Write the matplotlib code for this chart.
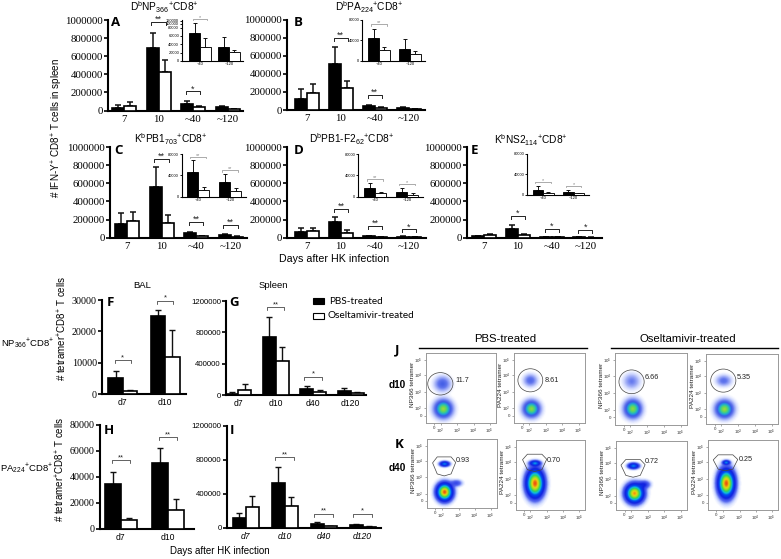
import matplotlib
matplotlib.use('Agg')
from matplotlib import pyplot as plt
from matplotlib.colors import LinearSegmentedColormap
from matplotlib.patches import Polygon, Ellipse, Rectangle
import numpy as np

W = 781
H = 559
SERIF = 'Liberation Serif'
SANS = 'Liberation Sans'
plt.rcParams['font.family'] = SANS
plt.rcParams['mathtext.default'] = 'regular'

days_top = ['7', '10', '~40', '~120']
days_long = ['d7', 'd10', 'd40', 'd120']
days_short = ['d7', 'd10']
inset_days = ['~40', '~120']

# top row panels, value and top of the error bar
a_black = [30000, 690000, 70000, 35000]
a_black_top = [60000, 860000, 100000, 55000]
a_white = [50000, 430000, 35000, 20000]
a_white_top = [95000, 560000, 50000, 22000]
b_black = [125000, 510000, 45000, 20000]
b_black_top = [230000, 700000, 60000, 30000]
b_white = [185000, 240000, 20000, 8000]
b_white_top = [290000, 320000, 28000, 12000]
c_black = [155000, 560000, 50000, 30000]
c_black_top = [275000, 775000, 68000, 42000]
c_white = [185000, 165000, 15000, 10000]
c_white_top = [280000, 250000, 22000, 14000]
d_black = [65000, 170000, 18000, 8000]
d_black_top = [105000, 230000, 22000, 14000]
d_white = [70000, 50000, 6000, 3000]
d_white_top = [105000, 85000, 9000, 5000]
e_black = [17000, 95000, 8000, 4000]
e_black_top = [22000, 140000, 12000, 6000]
e_white = [28000, 25000, 3000, 2000]
e_white_top = [42000, 45000, 5000, 3000]

# insets
ia_black = [68000, 33000]
ia_black_top = [90000, 57000]
ia_white = [34000, 21000]
ia_white_top = [54000, 26000]
ib_black = [43000, 23000]
ib_black_top = [61000, 41000]
ib_white = [20000, 13500]
ib_white_top = [27000, 19000]
ic_black = [46000, 28000]
ic_black_top = [68000, 43000]
ic_white = [12000, 10500]
ic_white_top = [18500, 15500]
id_black = [17000, 9000]
id_black_top = [25000, 16000]
id_white = [6000, 4000]
id_white_top = [8000, 6000]
ie_black = [10000, 6000]
ie_black_top = [17000, 10000]
ie_white = [4500, 3000]
ie_white_top = [6000, 4000]

# lower panels
f_black = [5000, 24900]
f_black_top = [7300, 26800]
f_white = [1000, 11900]
f_white_top = [1400, 20400]
g_black = [17000, 736000, 77000, 51000]
g_black_top = [34000, 996000, 110000, 89000]
g_white = [68000, 430000, 38000, 25000]
g_white_top = [140000, 613000, 60000, 38000]
h_black = [34500, 50600]
h_black_top = [44200, 62200]
h_white = [7000, 14400]
h_white_top = [8200, 23400]
i_black = [113000, 526000, 47000, 31000]
i_black_top = [179000, 720000, 66000, 47000]
i_white = [245000, 261000, 19000, 12000]
i_white_top = [370000, 358000, 27000, 19000]

ticks_top = [0, 200000, 400000, 600000, 800000, 1000000]
ticks_f = [0, 10000, 20000, 30000]
ticks_g = [0, 400000, 800000, 1200000]
ticks_h = [0, 20000, 40000, 60000, 80000]
ia_tick_labels = ['0', '20000', '40000', '60000', '80000', '100000', '120000']

# flow plots: percent labels and density blobs (x, y, sx, sy, peak) in box fractions
gate_pct = ['11.7', '8.61', '6.66', '5.35', '0.93', '0.70', '0.72', '0.25']
flow_names = ['NP366 tetramer', 'PA224 tetramer'] * 4
blobs_j1 = [(.246, .20, .07, .07, .66), (.234, .56, .065, .06, .2)]
blobs_j2 = [(.245, .20, .065, .065, .64), (.23, .61, .055, .05, .17)]
blobs_j3 = [(.245, .22, .065, .068, .64), (.23, .60, .065, .06, .12)]
blobs_j4 = [(.255, .21, .068, .068, .66), (.245, .62, .06, .045, .15)]
blobs_k1 = [(.25, .23, .062, .07, .95), (.25, .64, .04, .022, .36), (.42, .36, .05, .03, .09)]
blobs_k2 = [(.275, .38, .07, .11, .95), (.275, .67, .045, .022, .36)]
blobs_k3 = [(.26, .24, .07, .075, .88), (.245, .64, .045, .025, .36), (.40, .37, .05, .035, .12)]
blobs_k4 = [(.26, .38, .065, .11, .95), (.26, .68, .03, .018, .36)]

fig = plt.figure(figsize=(W / 100, H / 100), dpi=100)
cmap_j = LinearSegmentedColormap.from_list('flow_j', [
    (0, '#ffffff'), (.012, '#e4e9ff'), (.05, '#aab6f8'), (.12, '#6478ee'), (.22, '#3c58e4'),
    (.34, '#2098e0'), (.46, '#30c8a0'), (.6, '#70d850'), (.75, '#d8d828'), (.88, '#f0a010'), (1, '#e82010')])
cmap_k = LinearSegmentedColormap.from_list('flow_k', [
    (0, '#ffffff'), (.015, '#c8d4ff'), (.05, '#5a6cf0'), (.14, '#1020e0'), (.3, '#0050f0'),
    (.42, '#10c0e0'), (.55, '#30d060'), (.7, '#a0e020'), (.82, '#f0d010'), (1, '#e82010')])


def px_axes(left, top, right, bottom):
    return fig.add_axes([left / W, 1 - bottom / H, (right - left) / W, (bottom - top) / H])


def px_text(x, y, s, **kw):
    kw.setdefault('ha', 'center')
    kw.setdefault('va', 'center')
    return fig.text(x / W, 1 - y / H, s, **kw)


def bar_panel(box, cat0, spacing, barw, labels, black, black_top, white, white_top, ymax, ticks,
              lw=1.5, tick_font=SERIF, tick_size=7.8, x_font=SERIF, x_size=7.8, style='normal',
              tick_labels=None, tick_len=3.2, err_lw=1.1, cap=2.2):
    ax = px_axes(*box)
    ax.patch.set_alpha(0)
    left, top, right, bottom = box
    ax.set_xlim((left - cat0) / spacing, (right - cat0) / spacing)
    ax.set_ylim(0, ymax)
    x = np.arange(len(labels))
    w = barw / spacing
    black = np.array(black)
    white = np.array(white)
    ax.errorbar(x - w / 2, black, yerr=[black * 0, np.array(black_top) - black], fmt='none',
                ecolor='#111111', elinewidth=err_lw, capsize=cap, capthick=err_lw, clip_on=False)
    ax.errorbar(x + w / 2, white, yerr=[white * 0, np.array(white_top) - white], fmt='none',
                ecolor='#111111', elinewidth=err_lw, capsize=cap, capthick=err_lw, clip_on=False)
    ax.bar(x - w / 2, black, w, color='black', edgecolor='black', linewidth=lw * .8, zorder=3)
    ax.bar(x + w / 2, white, w, color='white', edgecolor='black', linewidth=lw * .8, zorder=3)
    for s in ['top', 'right']:
        ax.spines[s].set_visible(False)
    for s in ['left', 'bottom']:
        ax.spines[s].set_linewidth(lw)
    ax.set_yticks(ticks)
    ax.set_yticklabels(tick_labels if tick_labels else [str(t) for t in ticks],
                       fontfamily=tick_font, fontsize=tick_size)
    ax.tick_params(axis='y', length=tick_len, width=lw * .8, pad=.5)
    ax.set_xticks(x)
    ax.set_xticklabels(labels, fontfamily=x_font, fontsize=x_size, fontstyle=style)
    ax.tick_params(axis='x', length=0, pad=3 if lw > 1 else 1)
    return ax


def bracket(ax, cat, half, y, mark, color='#222222', lw=.7, size=6.5):
    y0, y1 = ax.get_ylim()
    box = ax.get_position()
    drop = (y1 - y0) / (box.height * H) * (3 if size > 5 else 1.5)
    ax.plot([cat - half, cat - half, cat + half, cat + half], [y - drop, y, y, y - drop],
            color=color, lw=lw, clip_on=False, zorder=5)
    ax.text(cat, y + drop * .9, mark, ha='center', va='center', fontsize=size, color=color,
            clip_on=False)


def add_brackets(ax, items, half=.21, **kw):
    for cat, y, mark in items:
        bracket(ax, cat, half, y, mark, **kw)


def inset(box, cat0, spacing, barw, black, black_top, white, white_top, ymax, ticks, items, tick_labels=None):
    ax = bar_panel(box, cat0, spacing, barw, inset_days, black, black_top, white, white_top, ymax, ticks,
                   lw=.8, tick_font=SANS, tick_size=2.9, x_font=SANS, x_size=3, tick_labels=tick_labels,
                   tick_len=1.4, err_lw=.7, cap=1.5)
    add_brackets(ax, items, half=.25, color='#888888', lw=.5, size=4)
    return ax


# top two rows
ax = bar_panel((108, 20, 243, 110.5), 124, 34.5, 12, days_top, a_black, a_black_top, a_white, a_white_top, 1000000, ticks_top)
add_brackets(ax, [(1, 980000, '**'), (2, 210000, '*')])
ax = bar_panel((287, 19.5, 425, 110), 306.7, 34, 12, days_top, b_black, b_black_top, b_white, b_white_top, 1000000, ticks_top)
add_brackets(ax, [(1, 800000, '**'), (2, 170000, '**')])
ax = bar_panel((110, 147, 247, 237.7), 127, 34.5, 12, days_top, c_black, c_black_top, c_white, c_white_top, 1000000, ticks_top)
add_brackets(ax, [(1, 870000, '**'), (2, 175000, '**'), (3, 140000, '**')])
ax = bar_panel((287, 147, 426, 237.7), 307, 34, 12, days_top, d_black, d_black_top, d_white, d_white_top, 1000000, ticks_top)
add_brackets(ax, [(1, 315000, '**'), (2, 130000, '**'), (3, 91000, '*')])
ax = bar_panel((467, 147, 602, 237.7), 484, 33.8, 12, days_top, e_black, e_black_top, e_white, e_white_top, 1000000, ticks_top)
add_brackets(ax, [(1, 240000, '*'), (2, 100000, '*'), (3, 90000, '*')])

inset((181.7, 20, 243, 61), 200, 29, 10.7, ia_black, ia_black_top, ia_white, ia_white_top, 98000,
      [0, 20000, 40000, 60000, 80000, 89000, 96000], [(0, 101000, '*')], tick_labels=ia_tick_labels)
inset((362, 19.5, 425, 60.5), 379, 31, 10.7, ib_black, ib_black_top, ib_white, ib_white_top, 80000,
      [0, 40000, 80000], [(0, 71000, '**')])
inset((181.7, 154, 245.6, 196.7), 198, 32, 11, ic_black, ic_black_top, ic_white, ic_white_top, 80000,
      [0, 40000, 80000], [(0, 75000, '**'), (1, 50000, '**')])
inset((358, 154, 422.7, 196.7), 375, 32, 11, id_black, id_black_top, id_white, id_white_top, 80000,
      [0, 40000, 80000], [(0, 33000, '**'), (1, 24000, '*')])
inset((527, 153.7, 589, 195), 543, 30.7, 10.5, ie_black, ie_black_top, ie_white, ie_white_top, 80000,
      [0, 40000, 80000], [(0, 26000, '*'), (1, 18000, '*')])

# lower left panels
ax = bar_panel((102, 300, 186, 394), 122.7, 42.5, 14.3, days_short, f_black, f_black_top, f_white, f_white_top, 30000, ticks_f,
               tick_size=7.2, x_font=SANS, x_size=6.2, err_lw=1)
add_brackets(ax, [(0, 10800, '*'), (1, 29700, '*')], half=.19, lw=.5, size=5.5)
ax = bar_panel((226, 301, 366, 395), 238, 37.5, 13, days_long, g_black, g_black_top, g_white, g_white_top, 1200000, ticks_g,
               tick_font=SANS, tick_size=5.6, x_font=SANS, x_size=6.2, err_lw=1)
add_brackets(ax, [(1, 1120000, '**'), (2, 230000, '*')], half=.23, lw=.5, size=5.5)
ax = bar_panel((100, 425, 194, 529), 120.7, 47.5, 16, days_short, h_black, h_black_top, h_white, h_white_top, 80000, ticks_h,
               tick_size=7.2, x_font=SANS, x_size=6.2, err_lw=1)
add_brackets(ax, [(0, 52700, '**'), (1, 70500, '**')], half=.19, lw=.5, size=5.5)
ax = bar_panel((226.7, 425.7, 381, 528), 245.7, 39, 13, days_long, i_black, i_black_top, i_white, i_white_top, 1200000, ticks_g,
               tick_font=SANS, tick_size=5.6, x_font=SANS, x_size=6.2, style='italic', err_lw=1)
add_brackets(ax, [(1, 830000, '**'), (2, 167000, '**'), (3, 164000, '*')], half=.24, lw=.5, size=5.5)

# titles and labels
px_text(164, 7, 'D$^b$NP$_{366}$$^{+}$CD8$^{+}$', fontsize=7.3)
px_text(369, 7, 'D$^b$PA$_{224}$$^{+}$CD8$^{+}$', fontsize=7.3)
px_text(171, 139, 'K$^b$PB1$_{703}$$^{+}$CD8$^{+}$', fontsize=7.3)
px_text(352, 139, 'D$^b$PB1-F2$_{62}$$^{+}$CD8$^{+}$', fontsize=7.3)
px_text(531, 140.5, 'K$^b$NS2$_{114}$$^{+}$CD8$^{+}$', fontsize=7.3)
px_text(57, 128, '# IFN-Y$^{+}$ CD8$^{+}$ T cells in spleen', fontsize=7.1, rotation=90)
px_text(334, 259, 'Days after HK infection', fontsize=7.7)
px_text(220, 551, 'Days after HK infection', fontsize=7)
px_text(142, 286, 'BAL', fontsize=6.8)
px_text(273, 286, 'Spleen', fontsize=6.8)
px_text(27.5, 344, 'NP$_{366}$$^{+}$CD8$^{+}$', fontsize=6.8)
px_text(27, 469, 'PA$_{224}$$^{+}$CD8$^{+}$', fontsize=6.8)
px_text(62, 328, '# tetramer$^{+}$CD8$^{+}$ T cells', fontsize=7, rotation=90)
px_text(60, 469, '# tetramer$^{+}$CD8$^{+}$ T cells', fontsize=7, rotation=90)

letters = ['A', 'B', 'C', 'D', 'E', 'F', 'G', 'H', 'I', 'J', 'K']
letter_x = [116, 298, 119, 299, 474, 110, 234, 109, 232, 397, 399]
letter_y = [23, 23, 151, 151, 150, 302, 302, 430, 430, 350, 444]
for s, lx, ly in zip(letters, letter_x, letter_y):
    px_text(lx, ly, s, fontsize=9.5, fontweight='bold', fontfamily='Open Sans')

# legend
fig.add_artist(Rectangle((313 / W, 1 - 304 / H), 11 / W, 6 / H, transform=fig.transFigure,
                         facecolor='black', edgecolor='black', linewidth=.8))
fig.add_artist(Rectangle((313 / W, 1 - 319 / H), 11 / W, 6 / H, transform=fig.transFigure,
                         facecolor='white', edgecolor='black', linewidth=.8))
px_text(329, 301, 'PBS-treated', ha='left', fontsize=7.2, fontfamily='Lato')
px_text(328, 316, 'Oseltamivir-treated', ha='left', fontsize=7.2, fontfamily='Lato')

# flow headers
px_text(505, 339, 'PBS-treated', fontsize=8.2)
px_text(688, 339, 'Oseltamivir-treated', fontsize=8.2)
fig.add_artist(plt.Line2D([419 / W, 587 / W], [1 - 348 / H] * 2, color='black', lw=1))
fig.add_artist(plt.Line2D([611 / W, 778 / W], [1 - 348 / H] * 2, color='black', lw=1))
px_text(397, 385, 'd10', fontsize=7.2, fontweight='bold')
px_text(397, 468, 'd40', fontsize=7.2, fontweight='bold')

flow_boxes = [(426, 353, 496, 423), (514, 353, 585, 423), (615, 353, 687, 425), (706, 354, 778, 424),
              (427, 439, 497, 508), (516, 440, 585, 510), (616, 441, 687, 510), (708, 440, 778, 510)]
flow_blobs = [blobs_j1, blobs_j2, blobs_j3, blobs_j4, blobs_k1, blobs_k2, blobs_k3, blobs_k4]
gates = [(.205, .56, .18, .16), (.23, .61, .175, .165), (.23, .60, .175, .165), (.24, .62, .175, .165),
         (.245, .61, .165, .145), (.27, .68, .175, .13), (.24, .61, .17, .135), (.25, .68, .175, .12)]
pct_pos = [(.42, .61), (.43, .61), (.41, .66), (.43, .66), (.41, .69), (.45, .71), (.41, .70), (.44, .72)]
gate_shape = [(-1, .3), (-.6, .9), (.6, .9), (1, .35), (.6, -.8), (0, -1), (-.6, -.8)]
grid_x, grid_y = np.meshgrid(np.linspace(0, 1, 140), np.linspace(0, 1, 140))

for n, box in enumerate(flow_boxes):
    ax = px_axes(*box)
    dens = np.zeros_like(grid_x)
    for bx, by, sx, sy, peak in flow_blobs[n]:
        dens += peak * np.exp(-((grid_x - bx) / sx) ** 2 / 2 - ((grid_y - by) / sy) ** 2 / 2)
    ax.imshow(dens, extent=(0, 1, 0, 1), origin='lower', aspect='auto', cmap=cmap_j if n < 4 else cmap_k,
              vmin=0, vmax=1, interpolation='bilinear')
    gx, gy, rx, ry = gates[n]
    if n < 4:
        ax.add_patch(Ellipse((gx, gy), 2 * rx, 2 * ry, fill=False, edgecolor='#444444', lw=.5))
    else:
        ax.add_patch(Polygon([(gx + rx * a, gy + ry * b) for a, b in gate_shape], closed=True,
                             fill=False, edgecolor='#444444', lw=.5))
    ax.text(pct_pos[n][0], pct_pos[n][1], gate_pct[n], fontsize=5.2, color='#222222', va='center')
    for s in ax.spines.values():
        s.set_color('#999999')
        s.set_linewidth(.7)
    ax.set_xlim(0, 1)
    ax.set_ylim(0, 1)
    ax.set_xticks([.12, .21, .45, .68, .91])
    ax.set_xticklabels(['0', '$10^{2}$', '$10^{3}$', '$10^{4}$', '$10^{5}$'], fontsize=3.2)
    ax.set_yticks([.105, .21, .45, .68, .905])
    ax.set_yticklabels(['0', '$10^{2}$', '$10^{3}$', '$10^{4}$', '$10^{5}$'], fontsize=3.2)
    ax.tick_params(length=1.2, width=.4, color='#666666', pad=1.2, labelcolor='#333333')
    px_text(box[0] - 13.5, box[1] + .45 * (box[3] - box[1]), flow_names[n], fontsize=4.6, rotation=90, color='#222222')

plt.savefig('out.png', dpi=100)
plt.close()
